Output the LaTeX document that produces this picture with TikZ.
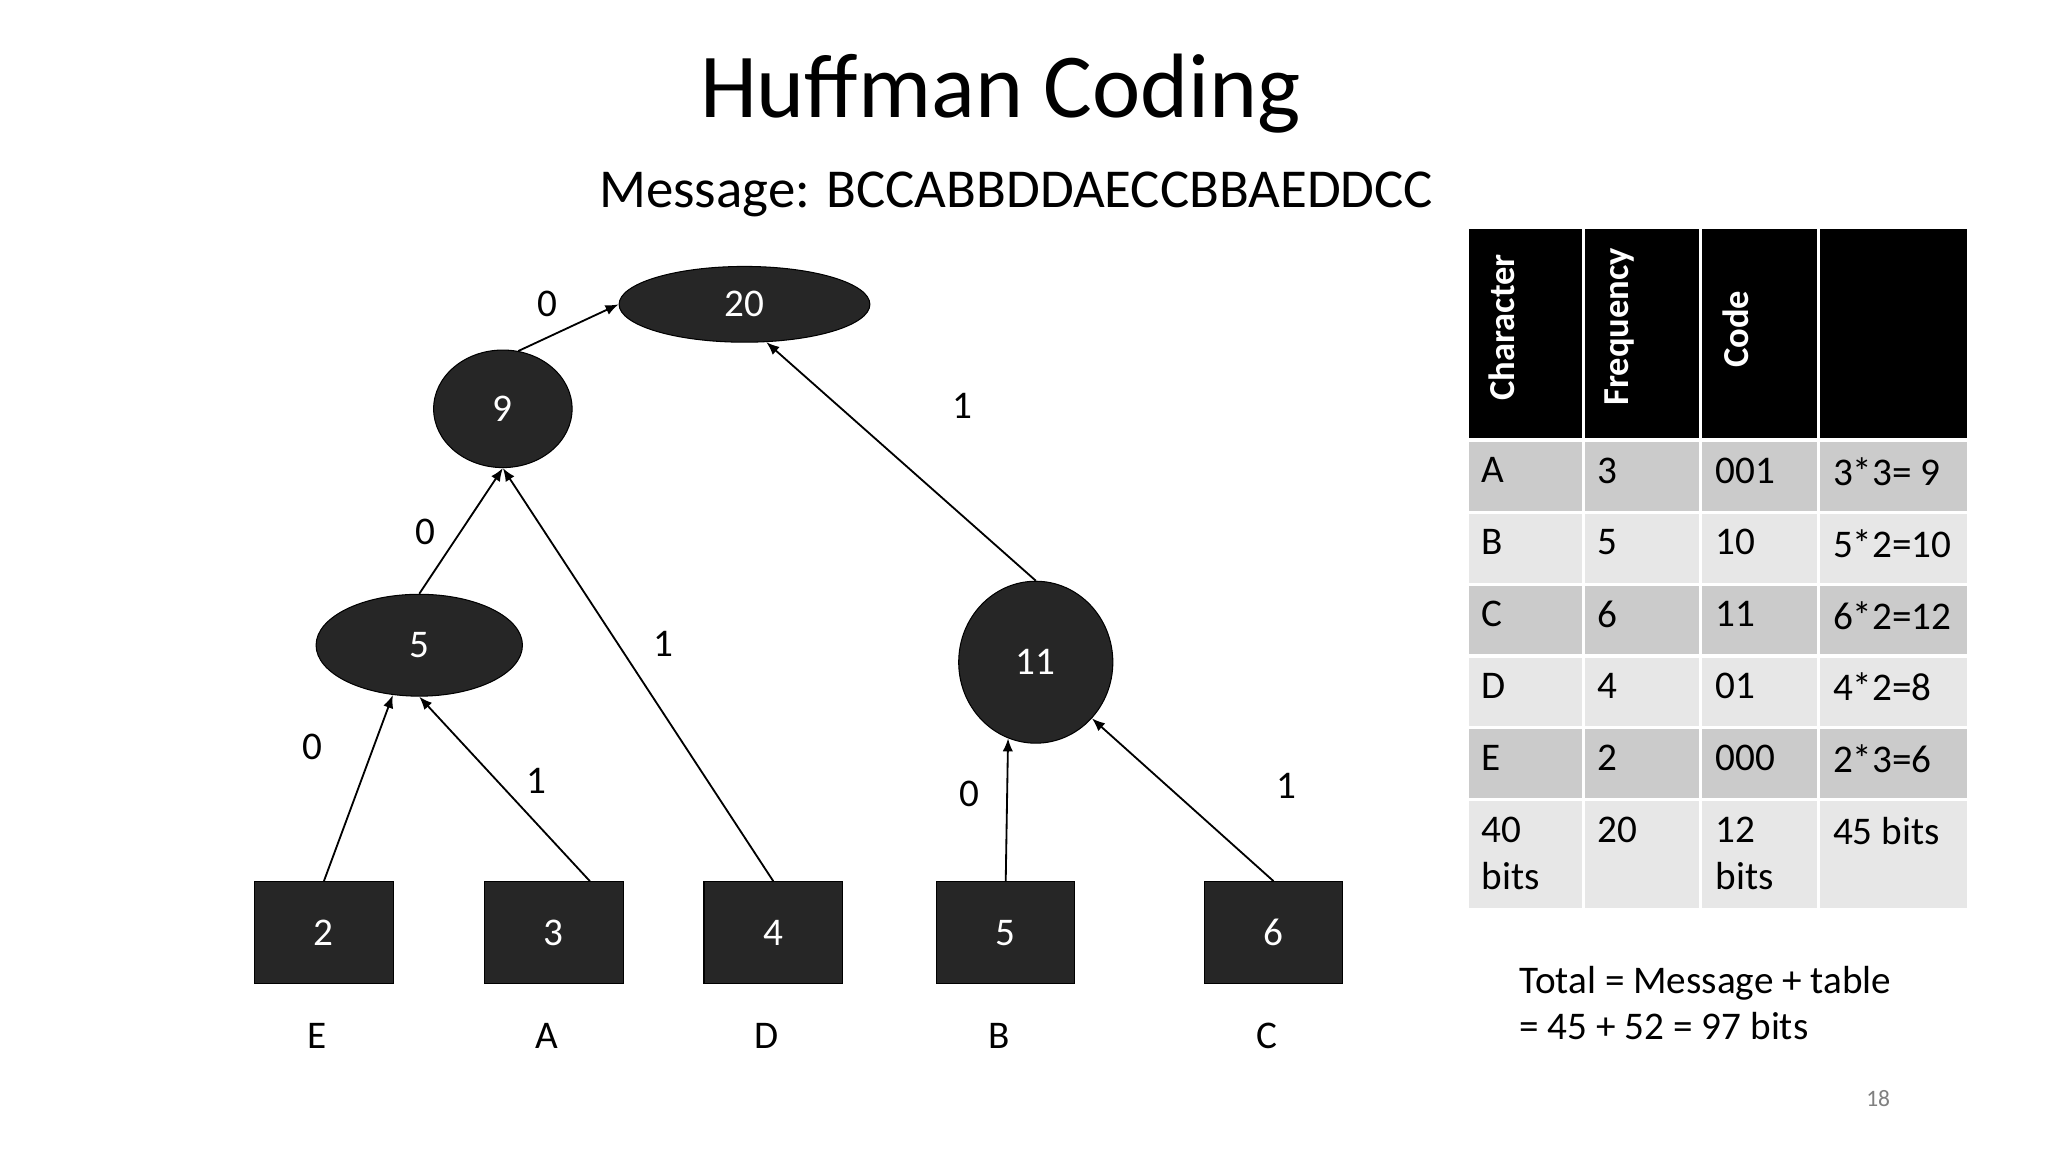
\documentclass[tikz,border=0pt]{standalone}
\usepackage{fontspec}
\setmainfont{Carlito}
\usetikzlibrary{shapes.geometric,arrows.meta}
\definecolor{nodefill}{HTML}{262626}
\definecolor{rowA}{HTML}{CBCBCB}
\definecolor{rowB}{HTML}{E7E7E7}
\begin{document}
\begin{tikzpicture}[x=0.5pt,y=-0.5pt,
  tn/.style={draw=black,fill=nodefill,text=white,font=\fontsize{15}{18}\selectfont,inner sep=0pt},
  el/.style={tn,ellipse},
  leaf/.style={tn,rectangle},
  lab/.style={font=\fontsize{15}{18}\selectfont},
  arr/.style={-{Latex[length=5pt,width=4pt]},line width=0.7pt},
  cell/.style={draw=white,line width=1.2pt,anchor=north west,inner sep=0pt},
  ct/.style={anchor=north west,font=\fontsize{15}{18}\selectfont,align=left,inner sep=0pt},
  ht/.style={anchor=west,rotate=90,text=white,font=\bfseries\fontsize{14}{17}\selectfont,inner sep=0pt}]
\useasboundingbox[fill=white] (0,0) rectangle (1568,882);
\node (title) at (766,72) {\fontsize{35}{40}\selectfont Huffman Coding};
\node (msg) at (778,149) {\fontsize{21}{25}\selectfont Message: BCCABBDDAECCBBAEDDCC};
% tree
\node[el,minimum width=96pt,minimum height=29pt] (n20) at (570,233) {20};
\node[el,minimum width=53pt,minimum height=45pt] (n9) at (385,313) {9};
\node[el,minimum width=79pt,minimum height=39pt] (n5) at (321,494) {5};
\node[el,minimum width=59pt,minimum height=62pt] (n11) at (793,507) {11};
\foreach \n/\x/\v/\c in {lE/248/2/E,lA/424/3/A,lD/592/4/D,lB/770/5/B,lC/975/6/C}{
  \node[leaf,minimum width=53pt,minimum height=39pt] (\n) at (\x,714) {\v};
  \node[lab] (t\n) at (\x-5,793) {\c};
}
\draw[arr] (n9.75) -- (n20.west);
\draw[arr] (n11.north) -- (n20.-60);
\draw[arr] (n5.north) -- (n9.south);
\draw[arr] (lD.north) -- (n9.south);
\draw[arr] (lE.north) -- (n5.-118);
\draw[arr] (lA.-55 |- lA.north) -- (n5.south);
\draw[arr] (lB.north) -- (n11.-110);
\draw[arr] (lC.north) -- (n11.-45);
\foreach \n/\x/\y/\t in {e1/419/233/0,e2/737/311/1,e3/326/407/0,e4/508/493/1,e5/239/572/0,e6/411/598/1,e7/742/608/0,e8/985/602/1}
  \node[lab] (\n) at (\x,\y) {\t};
% table
\foreach \cx/\cw [count=\i] in {1122/89,1211/90,1301/90,1391/115}{
  \node[cell,fill=black,minimum width=\cw*0.5pt,minimum height=81pt] (h\i) at (\cx,173) {};
}
\node[ht] (hc) at (1150,307) {Character};
\node[ht] (hf) at (1240,311) {Frequency};
\node[ht] (hd) at (1329,282) {Code};
\foreach \y/\h/\col/\a/\b/\c/\d [count=\r] in {
  336/55/rowA/A/3/001/{3*3= 9},
  391/55/rowB/B/5/10/{5*2=10},
  446/55/rowA/C/6/11/{6*2=12},
  501/55/rowB/D/4/01/{4*2=8},
  556/55/rowA/E/2/000/{2*3=6},
  611/84/rowB/{40\\bits}/20/{12\\bits}/{45 bits}}{
  \foreach \cx/\cw/\tx [count=\i] in {1122/89/\a,1211/90/\b,1301/90/\c,1391/115/\d}{
    \node[cell,fill=\col,minimum width=\cw*0.5pt,minimum height=\h*0.5pt] (c\r\i) at (\cx,\y) {};
    \node[ct] (x\r\i) at (\cx+12,\y+14) {\tx};
  }
}
\node[anchor=west,align=left,font=\fontsize{15}{17.5}\selectfont,inner sep=0pt] (tot) at (1163,768) {Total = Message + table\\= 45 + 52 = 97 bits};
\node[text=gray,font=\fontsize{9}{11}\selectfont] (pg) at (1438,841) {18};
\end{tikzpicture}
\end{document}
